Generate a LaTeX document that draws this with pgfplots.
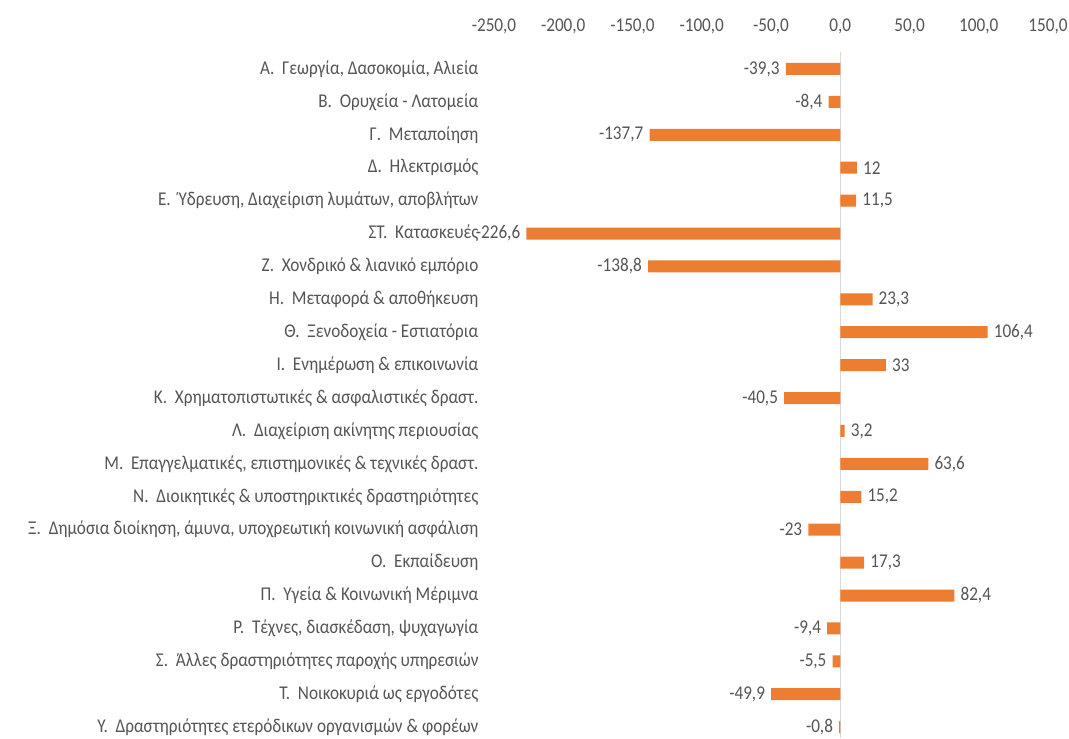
\documentclass[border=0pt]{standalone}
\usepackage{fontspec}
\setmainfont{Carlito}[FakeStretch=0.88]
\usepackage{pgfplots}
\pgfplotsset{compat=1.18}
\definecolor{barorange}{HTML}{ED7D31}
\definecolor{txt}{HTML}{555555}
\definecolor{zline}{HTML}{D9D9D9}
\begin{document}
\begin{tikzpicture}
\begin{axis}[
  name=ax,
  scale only axis,
  width=554pt, height=685.5pt,
  xmin=-250, xmax=150,
  ymin=-0.5, ymax=20.33,
  y dir=reverse,
  axis line style={draw=none},
  major tick length=0pt,
  xtick={-250,-200,-150,-100,-50,0,50,100,150},
  xticklabels={{-250,0},{-200,0},{-150,0},{-100,0},{-50,0},{0,0},{50,0},{100,0},{150,0}},
  xticklabel pos=top,
  xticklabel style={yshift=15pt},
  ytick={0,...,20},
  yticklabels={
    {Α.\ \ Γεωργία, Δασοκομία, Αλιεία},
    {Β.\ \ Ορυχεία - Λατομεία},
    {Γ.\ \ Μεταποίηση},
    {Δ.\ \ Ηλεκτρισμός},
    {Ε.\ \ Ύδρευση, Διαχείριση λυμάτων, αποβλήτων},
    {ΣΤ.\ \ Κατασκευές},
    {Ζ.\ \ Χονδρικό \& λιανικό εμπόριο},
    {Η.\ \ Μεταφορά \& αποθήκευση},
    {Θ.\ \ Ξενοδοχεία - Εστιατόρια},
    {Ι.\ \ Ενημέρωση \& επικοινωνία},
    {Κ.\ \ Χρηματοπιστωτικές \& ασφαλιστικές δραστ.},
    {Λ.\ \ Διαχείριση ακίνητης περιουσίας},
    {Μ.\ \ Επαγγελματικές, επιστημονικές \& τεχνικές δραστ.},
    {Ν.\ \ Διοικητικές \& υποστηρικτικές δραστηριότητες},
    {Ξ.\ \ Δημόσια διοίκηση, άμυνα, υποχρεωτική κοινωνική ασφάλιση},
    {Ο.\ \ Εκπαίδευση},
    {Π.\ \ Υγεία \& Κοινωνική Μέριμνα},
    {Ρ.\ \ Τέχνες, διασκέδαση, ψυχαγωγία},
    {Σ.\ \ Άλλες δραστηριότητες παροχής υπηρεσιών},
    {Τ.\ \ Νοικοκυριά ως εργοδότες},
    {Υ.\ \ Δραστηριότητες ετερόδικων οργανισμών \& φορέων}},
  yticklabel style={xshift=-12pt},
  tick label style={font=\fontsize{19.5}{22}\selectfont, text=txt},
  clip=false,
]
\draw[zline, line width=1pt] (axis cs:0,-0.5) -- (axis cs:0,20.33);
\addplot[xbar, bar shift=0pt, bar width=12pt, fill=barorange, draw=none,
  point meta=explicit symbolic, nodes near coords,
  every node near coord/.style={anchor=east, font=\fontsize{19.5}{22}\selectfont, text=txt, inner sep=6pt}]
  coordinates {
  (-39.3,0) [-39,3]
  (-8.4,1) [-8,4]
  (-137.7,2) [-137,7]
  (-226.6,5) [-226,6]
  (-138.8,6) [-138,8]
  (-40.5,10) [-40,5]
  (-23,14) [-23]
  (-9.4,17) [-9,4]
  (-5.5,18) [-5,5]
  (-49.9,19) [-49,9]
  (-0.8,20) [-0,8]
  };
\addplot[xbar, bar shift=0pt, bar width=12pt, fill=barorange, draw=none,
  point meta=explicit symbolic, nodes near coords,
  every node near coord/.style={anchor=west, font=\fontsize{19.5}{22}\selectfont, text=txt, inner sep=6pt}]
  coordinates {
  (12,3) [12]
  (11.5,4) [11,5]
  (23.3,7) [23,3]
  (106.4,8) [106,4]
  (33,9) [33]
  (3.2,11) [3,2]
  (63.6,12) [63,6]
  (15.2,13) [15,2]
  (17.3,15) [17,3]
  (82.4,16) [82,4]
  };
\end{axis}
\pgfresetboundingbox
\path[use as bounding box] ([xshift=-494pt]ax.south west) rectangle ([xshift=21pt,yshift=52.5pt]ax.north east);
\end{tikzpicture}
\end{document}
